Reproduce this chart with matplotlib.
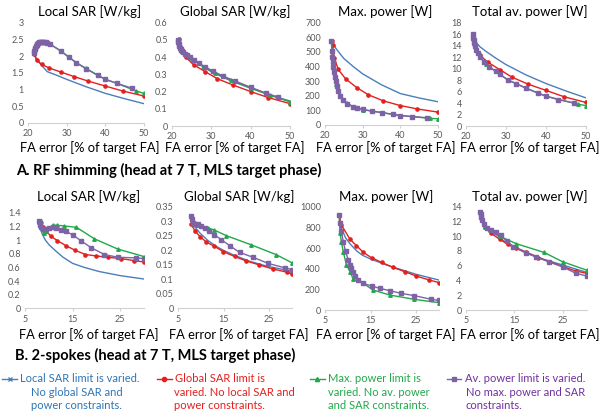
import numpy as np
import matplotlib.pyplot as plt
from matplotlib.ticker import FuncFormatter

plt.rcParams['font.family'] = ['Lato', 'DejaVu Sans']

# colours of the four series (Excel-like)
c_blue = '#4A7EBB'
c_red = '#E3201E'
c_green = '#21A84A'
c_purple = '#7E62A6'

# ---------------- A. RF shimming ----------------
# Local SAR [W/kg]
a_loc_blue_x = [21.6, 22.5, 23.5, 25.0, 27.5, 30, 35, 40, 45, 50]
a_loc_blue_y = [2.05, 1.88, 1.72, 1.53, 1.42, 1.3, 1.08, 0.88, 0.72, 0.57]
a_loc_red_x = [21.6, 22.2, 23.5, 25.5, 28.5, 32, 35.5, 40, 44.5, 50]
a_loc_red_y = [2.05, 1.88, 1.75, 1.64, 1.52, 1.38, 1.25, 1.1, 0.95, 0.8]
a_loc_green_x = [21.5, 23.0, 25.8, 28.5, 30.5, 32.5, 35, 38, 40, 43, 48, 50]
a_loc_green_y = [2.1, 2.43, 2.35, 2.15, 1.97, 1.8, 1.63, 1.43, 1.3, 1.18, 0.95, 0.88]
a_loc_purple_x = [21.5, 21.6, 21.7, 21.8, 22.0, 22.2, 22.4, 22.6, 22.8, 23.0, 23.3, 23.6,
                  23.9, 24.2, 24.6, 25.0, 25.8, 28.5, 30.5, 32.5, 35, 38, 40, 43, 47]
a_loc_purple_y = [2.1, 2.15, 2.2, 2.25, 2.3, 2.34, 2.37, 2.4, 2.42, 2.43, 2.43, 2.43,
                  2.43, 2.42, 2.41, 2.39, 2.35, 2.15, 1.97, 1.8, 1.62, 1.42, 1.3, 1.18, 1.03]

# Global SAR [W/kg]
a_glob_blue_x = [21.7, 23, 25, 27.5, 30, 35, 40, 45, 50]
a_glob_blue_y = [0.5, 0.43, 0.39, 0.35, 0.315, 0.262, 0.22, 0.18, 0.145]
a_glob_red_x = [21.7, 22.3, 23.5, 25.5, 28.5, 31.5, 35.5, 40, 44.5, 50]
a_glob_red_y = [0.505, 0.44, 0.4, 0.355, 0.315, 0.275, 0.238, 0.2, 0.165, 0.13]
a_glob_green_x = [21.5, 23, 25, 28, 31, 35, 40, 45, 50]
a_glob_green_y = [0.5, 0.43, 0.39, 0.345, 0.305, 0.265, 0.22, 0.178, 0.14]
a_glob_purple_x = [21.5, 21.6, 21.7, 21.8, 22.0, 22.2, 22.4, 22.6, 22.9, 23.3, 23.8, 24.5,
                   25.5, 26.8, 28.5, 30.5, 33, 36, 40, 44, 47]
a_glob_purple_y = [0.5, 0.485, 0.475, 0.465, 0.455, 0.448, 0.44, 0.435, 0.428, 0.42, 0.41, 0.398,
                   0.383, 0.365, 0.343, 0.318, 0.29, 0.262, 0.225, 0.19, 0.168]

# Max. power [W]
a_max_blue_x = [21.8, 22.2, 23, 25, 27.5, 30, 35, 40, 45, 50]
a_max_blue_y = [580, 555, 520, 455, 400, 350, 275, 215, 185, 159]
a_max_red_x = [21.8, 22.0, 22.5, 23.5, 25.5, 28.5, 31.5, 35.5, 40, 44.5, 50]
a_max_red_y = [575, 545, 460, 380, 315, 255, 207, 165, 133, 110, 88]
a_max_green_x = [21.7, 22.2, 23, 24, 25.8, 27.5, 30, 35, 40, 48, 50]
a_max_green_y = [575, 420, 280, 200, 150, 125, 105, 85, 65, 45, 43]
a_max_purple_x = [21.7, 21.8, 21.9, 22.0, 22.2, 22.4, 22.6, 22.8, 23.1, 23.5, 24.0, 24.8,
                  25.8, 27.5, 28.5, 30, 32.5, 35, 38, 40, 43, 47]
a_max_purple_y = [575, 505, 465, 430, 395, 360, 330, 300, 270, 235, 200, 172,
                  147, 125, 118, 107, 95, 85, 73, 65, 58, 50]

# Total av. power [W]
a_av_blue_x = [21.7, 22.5, 23.5, 25, 27.5, 30, 35, 40, 45, 50]
a_av_blue_y = [16, 14.6, 13.8, 13.0, 11.8, 10.7, 8.9, 7.4, 6.1, 4.9]
a_av_red_x = [21.7, 22.0, 22.5, 23.5, 25.5, 28.5, 31.5, 35.5, 40, 44.5, 50]
a_av_red_y = [16, 14.8, 13.5, 12.3, 11.1, 9.8, 8.5, 7.3, 6.2, 5.1, 4.1]
a_av_green_x = [21.7, 22.5, 23.5, 25, 27.5, 30.5, 35, 40, 48, 50]
a_av_green_y = [16, 13.3, 12.0, 10.8, 9.5, 8.0, 6.6, 5.2, 3.8, 3.55]
a_av_purple_x = [21.7, 21.8, 21.9, 22.0, 22.2, 22.5, 22.9, 23.5, 24.5, 25.8, 27.5, 28.5,
                 30.5, 32.5, 35, 38, 40, 43, 47]
a_av_purple_y = [16, 15.3, 14.9, 14.5, 14.0, 13.3, 12.7, 12.0, 11.2, 10.3, 9.5, 9.0,
                 8.0, 7.4, 6.6, 5.7, 5.2, 4.6, 4.0]

# ---------------- B. 2-spokes ----------------
b_loc_blue_x = [8.0, 8.3, 8.7, 9.3, 10.1, 11.5, 13, 15, 17.5, 20.6, 25, 30]
b_loc_blue_y = [1.27, 1.15, 1.08, 1.0, 0.93, 0.84, 0.75, 0.66, 0.6, 0.54, 0.48, 0.43]
b_loc_red_x = [8.0, 8.7, 10.4, 11.8, 13.6, 15.6, 17.7, 19.9, 22.4, 25.2, 28.0, 30]
b_loc_red_y = [1.27, 1.2, 1.06, 0.995, 0.92, 0.85, 0.79, 0.77, 0.75, 0.73, 0.70, 0.68]
b_loc_green_x = [8.0, 8.3, 8.9, 9.4, 10.1, 10.8, 11.8, 13.2, 15.8, 19.6, 24.5, 30]
b_loc_green_y = [1.27, 1.28, 1.1, 1.14, 1.18, 1.22, 1.22, 1.21, 1.19, 1.02, 0.87, 0.76]
b_loc_purple_x = [8.0, 8.1, 8.2, 8.4, 8.7, 9.4, 10.1, 10.8, 11.5, 12.5, 13.6, 15.0,
                  16.8, 18.9, 21.7, 24.5, 28.4, 30]
b_loc_purple_y = [1.28, 1.26, 1.23, 1.19, 1.16, 1.16, 1.18, 1.19, 1.18, 1.15, 1.13, 1.08,
                  0.99, 0.89, 0.79, 0.75, 0.74, 0.73]

b_glob_blue_x = [7.9, 8.5, 9.8, 11.5, 13.4, 15, 17.1, 20.8, 24.4, 27.5, 30]
b_glob_blue_y = [0.318, 0.285, 0.26, 0.235, 0.214, 0.2, 0.185, 0.162, 0.146, 0.136, 0.128]
b_glob_red_x = [7.9, 8.7, 9.8, 11.2, 13, 14.9, 17.4, 19.9, 22.8, 25.8, 28.8, 30]
b_glob_red_y = [0.29, 0.268, 0.248, 0.229, 0.214, 0.196, 0.179, 0.164, 0.15, 0.136, 0.125, 0.118]
b_glob_green_x = [7.9, 8.2, 8.6, 9.2, 10, 11.5, 13, 15.6, 21.1, 26.6, 30]
b_glob_green_y = [0.318, 0.3, 0.292, 0.288, 0.285, 0.278, 0.27, 0.251, 0.219, 0.185, 0.157]
b_glob_purple_x = [7.9, 8.0, 8.2, 8.7, 9.4, 10.1, 10.9, 11.9, 13, 14.5, 16.4, 18.5,
                   21.5, 24.8, 28.4, 30]
b_glob_purple_y = [0.318, 0.31, 0.295, 0.29, 0.29, 0.286, 0.277, 0.268, 0.254, 0.237, 0.216, 0.193,
                   0.176, 0.155, 0.14, 0.134]

b_max_blue_x = [8.1, 8.6, 9.5, 10.5, 12, 13.2, 15.2, 18.5, 21.4, 25, 30]
b_max_blue_y = [919, 790, 700, 640, 570, 530, 490, 435, 395, 345, 290]
b_max_red_x = [8.1, 8.6, 10.5, 11.9, 13.4, 15.2, 17.4, 19.9, 22.5, 25, 27.9, 30]
b_max_red_y = [919, 823, 684, 623, 558, 506, 461, 413, 371, 329, 290, 265]
b_max_green_x = [8.1, 8.3, 8.6, 9.0, 9.7, 10.5, 11.2, 13.4, 15.5, 19.2, 24.6, 30]
b_max_green_y = [919, 742, 661, 565, 435, 371, 297, 258, 194, 145, 103, 71]
b_max_purple_x = [8.1, 8.3, 8.6, 9.0, 9.5, 10.1, 10.5, 10.8, 11.2, 11.5, 12.3, 13.4,
                  15.2, 17, 19.2, 21.7, 24.6, 28.3, 30]
b_max_purple_y = [919, 840, 760, 660, 570, 484, 435, 403, 371, 329, 290, 258,
                  232, 210, 187, 161, 139, 103, 92]

b_av_blue_x = [8.0, 8.5, 9.5, 11, 13, 15, 18, 21, 25, 30]
b_av_blue_y = [13.3, 12.0, 11.1, 10.4, 9.3, 8.6, 7.7, 6.9, 6.1, 5.1]
b_av_red_x = [8.0, 8.3, 9.0, 10.2, 12, 13.7, 15.4, 17.5, 19.9, 22.3, 25, 27.7, 30]
b_av_red_y = [13.3, 12.3, 11.2, 10.4, 9.6, 8.9, 8.35, 7.8, 7.1, 6.55, 5.9, 5.3, 4.97]
b_av_green_x = [8.0, 8.3, 9.0, 10, 12, 15.4, 21.2, 25, 30]
b_av_green_y = [13.3, 12.5, 11.3, 10.8, 10.0, 9.0, 7.8, 6.55, 5.4]
b_av_purple_x = [8.0, 8.1, 8.2, 8.4, 8.7, 9.3, 10.3, 11.3, 12.3, 13.5, 14.8, 17.5,
                 19.5, 22.3, 25, 27.7, 30]
b_av_purple_y = [13.3, 13.0, 12.6, 12.2, 11.7, 11.15, 10.9, 10.6, 10.1, 9.3, 8.6, 7.7,
                 7.2, 6.5, 5.85, 5.0, 4.6]

titles = ['Local SAR [W/kg]', 'Global SAR [W/kg]', 'Max. power [W]', 'Total av. power [W]']

panels_a = [
    (a_loc_blue_x, a_loc_blue_y, a_loc_red_x, a_loc_red_y, a_loc_green_x, a_loc_green_y, a_loc_purple_x, a_loc_purple_y),
    (a_glob_blue_x, a_glob_blue_y, a_glob_red_x, a_glob_red_y, a_glob_green_x, a_glob_green_y, a_glob_purple_x, a_glob_purple_y),
    (a_max_blue_x, a_max_blue_y, a_max_red_x, a_max_red_y, a_max_green_x, a_max_green_y, a_max_purple_x, a_max_purple_y),
    (a_av_blue_x, a_av_blue_y, a_av_red_x, a_av_red_y, a_av_green_x, a_av_green_y, a_av_purple_x, a_av_purple_y),
]
panels_b = [
    (b_loc_blue_x, b_loc_blue_y, b_loc_red_x, b_loc_red_y, b_loc_green_x, b_loc_green_y, b_loc_purple_x, b_loc_purple_y),
    (b_glob_blue_x, b_glob_blue_y, b_glob_red_x, b_glob_red_y, b_glob_green_x, b_glob_green_y, b_glob_purple_x, b_glob_purple_y),
    (b_max_blue_x, b_max_blue_y, b_max_red_x, b_max_red_y, b_max_green_x, b_max_green_y, b_max_purple_x, b_max_purple_y),
    (b_av_blue_x, b_av_blue_y, b_av_red_x, b_av_red_y, b_av_green_x, b_av_green_y, b_av_purple_x, b_av_purple_y),
]

a_ylims = [(0, 3, 7), (0, 0.6, 7), (0, 700, 8), (0, 18, 10)]
b_ylims = [(0, 1.4, 8), (0, 0.35, 8), (0, 1000, 6), (0, 14, 8)]

W, H = 600, 418
# plot areas in pixels: left, right, top, bottom
a_px = [(28, 144, 22.7, 122.7), (172, 290, 22.7, 126), (325, 438, 22.7, 125), (466, 586, 22.7, 126)]
b_px = [(25, 144, 213, 308.3), (178, 292, 207, 308.3), (325, 439, 206.7, 310), (465.7, 586.7, 206.7, 310)]

fig = plt.figure(figsize=(6, 4.18), dpi=100)


def fmt(v, pos):
    return '%g' % round(v, 3)


def draw_panel(px_box, data, title, ylim, xlim, xticks, title_y, xlabel_y):
    l, r, t, b = px_box
    ax = fig.add_axes([l / W, 1 - b / H, (r - l) / W, (b - t) / H])
    bx, by, rx, ry, gx, gy, px, py = data
    lb, = ax.plot(bx, by, color=c_blue, lw=1.0)
    lr, = ax.plot(rx, ry, color=c_red, lw=1.0, marker='o', ms=2.3, mec=c_red)
    lg, = ax.plot(gx, gy, color=c_green, lw=1.0, marker='^', ms=2.5, mec=c_green)
    lp, = ax.plot(px, py, color=c_purple, lw=1.0, marker='s', ms=2.3, mec=c_purple)
    y0, y1, n = ylim
    ax.set_ylim(y0, y1)
    ax.set_yticks(np.round(np.linspace(y0, y1, n), 4))
    ax.yaxis.set_major_formatter(FuncFormatter(fmt))
    ax.set_xlim(*xlim)
    ax.set_xticks(xticks)
    for s in ['top', 'right', 'left']:
        ax.spines[s].set_visible(False)
    ax.spines['bottom'].set_color('#D0D0D0')
    ax.spines['bottom'].set_linewidth(0.8)
    ax.tick_params(axis='y', length=0, labelsize=6.5, labelcolor='#595959', pad=3)
    ax.tick_params(axis='x', length=2.5, color='#D0D0D0', labelsize=6.5,
                   labelcolor='#595959', pad=2)
    cx = ((l + r) / 2 + 4) / W
    fig.text(cx, 1 - title_y / H, title, fontsize=9.5, ha='center', va='center')
    fig.text(cx, 1 - xlabel_y / H, 'FA error [% of target FA]', fontsize=9.3,
             ha='center', va='center')
    return lb, lr, lg, lp


for box, data, title, ylim in zip(a_px, panels_a, titles, a_ylims):
    draw_panel(box, data, title, ylim, (20, 50), [20, 30, 40, 50], 12, 148)

for box, data, title, ylim in zip(b_px, panels_b, titles, b_ylims):
    handles = draw_panel(box, data, title, ylim, (5, 30), [5, 15, 25], 197, 335)

fig.text(0.027, 1 - 170 / H, 'A. RF shimming (head at 7 T, MLS target phase)',
         fontsize=10.5, fontweight='bold', va='center')
fig.text(0.025, 1 - 355 / H, 'B. 2-spokes (head at 7 T, MLS target phase)',
         fontsize=10.5, fontweight='bold', va='center')

# legend: one entry per column, first line with the marker, rest as text
leg_first = ['Local SAR limit is varied.', 'Global SAR limit is',
             'Max. power limit is', 'Av. power limit is varied.']
leg_rest = ['No global SAR and\npower constraints.', 'varied. No local SAR and\npower constraints.',
            'varied. No av. power\nand SAR constraints.', 'No max. power and SAR\nconstraints.']
leg_colors = ['#2E75B6', c_red, c_green, '#7030A0']
leg_markers = ['x', 'o', '^', 's']
leg_x = [0.004, 0.262, 0.517, 0.745]
rest_x = [0.052, 0.290, 0.547, 0.776]

for h, first, rest, col, mk, lx, rx in zip(handles, leg_first, leg_rest, leg_colors,
                                           leg_markers, leg_x, rest_x):
    proxy = plt.Line2D([], [], color=h.get_color(), lw=1.0, marker=mk, ms=3)
    fig.legend(handles=[proxy], labels=[first], loc='center left',
               bbox_to_anchor=(lx, 1 - 379 / H), frameon=False, fontsize=8,
               labelcolor=col, handlelength=1.3, handletextpad=0.3, borderpad=0,
               borderaxespad=0)
    fig.text(rx, 1 - 386.5 / H, rest, color=col, fontsize=8, va='top',
             linespacing=1.3)

fig.savefig('out.png', dpi=100)
